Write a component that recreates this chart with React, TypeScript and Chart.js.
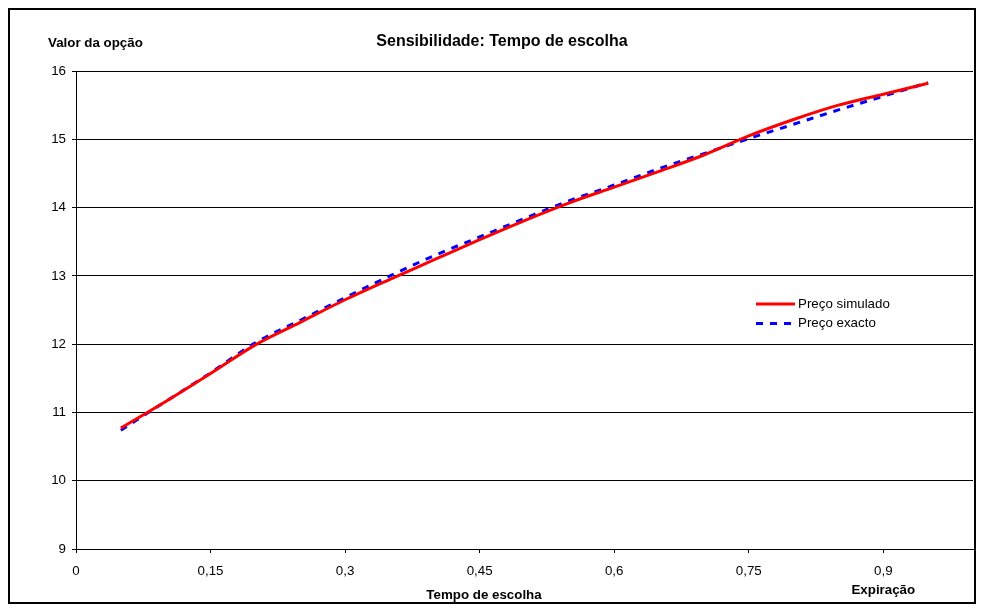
import React, { useEffect, useRef } from 'react';
import { Chart, registerables } from 'chart.js';

Chart.register(...registerables);

const chartTitle = 'Sensibilidade: Tempo de escolha';
const yAxisTitle = 'Valor da opção';
const xAxisTitle = 'Tempo de escolha';
const expiryLabel = 'Expiração';
const expiryTick = 0.9;

const seriesLabels = ['Preço simulado', 'Preço exacto'];
const seriesColors = ['#ff0000', '#0000ff'];

const timeValues = [0.05, 0.1, 0.15, 0.2, 0.25, 0.3, 0.35, 0.4, 0.45, 0.5, 0.55, 0.6, 0.65, 0.7, 0.75, 0.8, 0.85, 0.9, 0.95];
const simulatedPrice = [10.77, 11.16, 11.57, 11.99, 12.32, 12.65, 12.95, 13.24, 13.53, 13.81, 14.07, 14.30, 14.53, 14.77, 15.05, 15.29, 15.50, 15.66, 15.82];
const exactPrice = [10.74, 11.16, 11.58, 12.02, 12.35, 12.68, 13.00, 13.30, 13.57, 13.84, 14.10, 14.33, 14.57, 14.79, 15.01, 15.22, 15.43, 15.63, 15.83];

const xTicks = [0, 0.15, 0.3, 0.45, 0.6, 0.75, 0.9];
const xMin = 0;
const xMax = 1;
const yMin = 9;
const yMax = 16;
const yStep = 1;

const FONT = '"Liberation Sans", Arial, Helvetica, sans-serif';

const overlayPlugin = {
  id: 'overlayText',
  afterDraw(chart: any) {
    const ctx = chart.ctx;
    ctx.save();
    ctx.fillStyle = '#000';
    ctx.textBaseline = 'alphabetic';
    ctx.font = `bold 16px ${FONT}`;
    ctx.textAlign = 'center';
    ctx.fillText(chartTitle, 492, 36);

    ctx.font = `bold 13.33px ${FONT}`;
    ctx.textAlign = 'left';
    ctx.fillText(yAxisTitle, 38, 37);

    ctx.textAlign = 'center';
    ctx.fillText(xAxisTitle, 474, 589);
    const xs = chart.scales.x;
    ctx.fillText(expiryLabel, xs.getPixelForValue(expiryTick), 584);

    // legend
    chart.data.datasets.forEach((ds: any, i: number) => {
      const y = 294 + i * 19.5;
      ctx.strokeStyle = ds.borderColor;
      ctx.lineWidth = ds.borderWidth;
      ctx.lineCap = 'butt';
      ctx.setLineDash(ds.borderDash || []);
      ctx.beginPath();
      ctx.moveTo(746, y);
      ctx.lineTo(785, y);
      ctx.stroke();
      ctx.setLineDash([]);
      ctx.font = `13.33px ${FONT}`;
      ctx.textAlign = 'left';
      ctx.textBaseline = 'middle';
      ctx.fillStyle = '#000';
      ctx.fillText(ds.label, 788, y);
    });
    ctx.restore();
  },
};

export default function App() {
  const ref = useRef<HTMLCanvasElement | null>(null);

  useEffect(() => {
    if (!ref.current) return;
    const toPoints = (ys: number[]) => timeValues.map((x, i) => ({ x, y: ys[i] }));
    const chart = new Chart(ref.current, {
      type: 'line',
      data: {
        datasets: [
          {
            label: seriesLabels[0],
            data: toPoints(simulatedPrice),
            borderColor: seriesColors[0],
            backgroundColor: seriesColors[0],
            borderWidth: 3,
            pointRadius: 0,
            cubicInterpolationMode: 'monotone',
            fill: false,
          },
          {
            label: seriesLabels[1],
            data: toPoints(exactPrice),
            borderColor: seriesColors[1],
            backgroundColor: seriesColors[1],
            borderWidth: 3,
            borderDash: [7, 7],
            pointRadius: 0,
            cubicInterpolationMode: 'monotone',
            fill: false,
          },
        ],
      },
      options: {
        animation: false,
        responsive: false,
        devicePixelRatio: 1,
        layout: { padding: { left: 0, right: 1, top: 61, bottom: 0 } },
        plugins: {
          legend: { display: false },
          title: { display: false },
          tooltip: { enabled: false },
        },
        scales: {
          x: {
            type: 'linear',
            min: xMin,
            max: xMax,
            afterBuildTicks: (scale: any) => {
              scale.ticks = xTicks.map((v) => ({ value: v }));
            },
            afterFit: (scale: any) => {
              scale.height = 53;
            },
            border: { display: true, color: '#000', width: 1 },
            grid: { drawOnChartArea: false, drawTicks: true, tickLength: 4, color: '#000' },
            ticks: {
              color: '#000',
              padding: 10,
              maxRotation: 0,
              autoSkip: false,
              font: { family: FONT, size: 13.33 },
              callback: (v: any) => String(Number(v)).replace('.', ','),
            },
          },
          y: {
            type: 'linear',
            min: yMin,
            max: yMax,
            afterFit: (scale: any) => {
              scale.width = 66;
            },
            border: { display: true, color: '#000', width: 1 },
            grid: { drawOnChartArea: true, drawTicks: true, tickLength: 4, color: '#000' },
            ticks: {
              stepSize: yStep,
              color: '#000',
              padding: 6,
              font: { family: FONT, size: 13.33 },
              callback: (v: any) => String(v),
            },
          },
        },
      },
      plugins: [overlayPlugin],
    } as any);
    return () => chart.destroy();
  }, []);

  return (
    <div
      style={{
        position: 'relative',
        width: 968,
        height: 596,
        border: '2px solid #000',
        boxSizing: 'border-box',
        background: '#fff',
      }}
    >
      <canvas
        ref={ref}
        width={964}
        height={592}
        style={{ position: 'absolute', left: 0, top: 0, width: 964, height: 592 }}
      />
    </div>
  );
}
